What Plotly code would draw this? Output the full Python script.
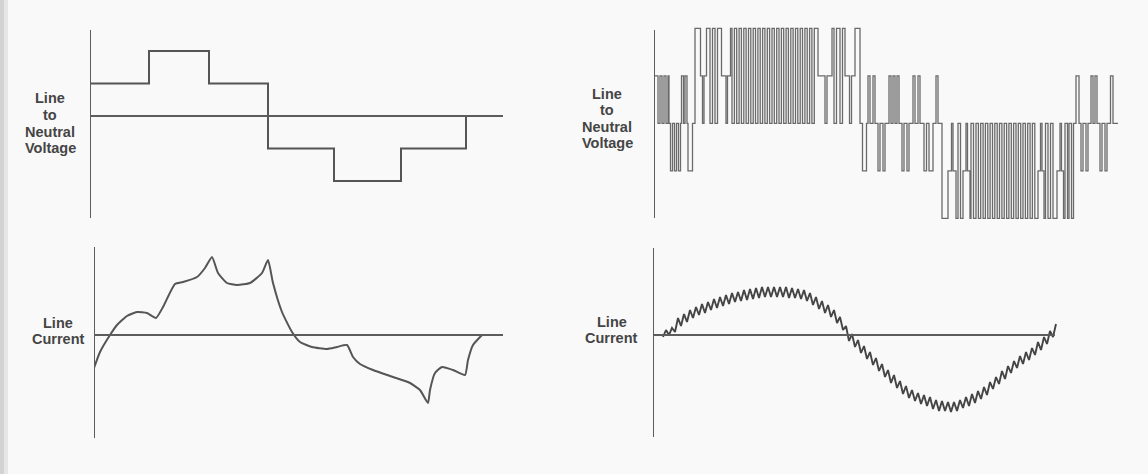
import plotly.graph_objects as go

W, H = 1148, 474

# ---------------- data ----------------
# Six-step inverter: line-to-neutral voltage (angle, level after edge)
six_t = [0, 59, 119, 178, 244, 311, 376]
six_v = [1, 2, 1, -1, -2, -1, 0]

# Six-step inverter: line current (angle, amplitude)
cur_t = [0, 6, 16, 23, 33, 43, 53, 62, 69, 81, 89, 103, 111, 118, 124, 133, 143, 156,
         168, 174, 179, 188, 198, 206, 218, 233, 243, 253, 259, 266, 279, 299, 316, 326,
         334, 336, 341, 348, 359, 371, 374, 379, 388]
cur_v = [-3.3, -1.7, 0.0, 1.0, 1.9, 2.3, 2.2, 1.7, 2.8, 5.1, 5.3, 5.8, 6.7, 7.8, 6.2,
         5.2, 5.0, 5.2, 6.2, 7.5, 5.2, 2.3, 0.3, -0.7, -1.2, -1.4, -1.2, -1.0, -2.2,
         -2.9, -3.5, -4.2, -4.8, -5.5, -6.8, -5.5, -3.8, -3.2, -3.5, -4.0, -2.5, -1.0, 0.0]

# PWM inverter: line-to-neutral voltage, switching edges (angle, level after edge)
pwm_t = [0, 4, 6, 8, 10, 12, 14, 15, 16.5, 18.5, 20.5, 22.5, 24.5, 26.5, 27.5, 29.5, 31, 33,
         34, 38.5, 41, 46.5, 48.5, 50, 52.5, 56, 58.5, 61, 63.5, 67.5, 72, 73.5, 76.5,
         78, 80.4, 82.7, 85.1, 87.4, 89.8, 92.1, 94.5, 96.8, 99.2, 101.5, 103.9, 106.2, 108.6,
         110.9, 113.3, 115.6, 118, 120.3, 122.7, 125, 127.4, 129.7, 132.1, 134.4, 136.8,
         139.1, 141.5, 143.8, 146.2, 148.5, 150.9, 153.2, 155.6, 157.9, 160.3,
         164, 171, 173, 178, 180, 182.5, 186, 188.5, 191, 195.5, 197.5, 201, 206, 208.5, 212.5,
         214, 216, 219, 221, 224, 226, 229, 231, 235, 237, 239, 241, 243, 245, 248, 250, 253, 255,
         259, 261, 264, 266, 270, 272.5, 275, 279, 282, 284, 288, 294, 297.5, 299, 302, 304, 306.5,
         309, 312, 313.5, 316, 317, 319.5,
         322, 324.4, 326.7, 329.1, 331.4, 333.8, 336.1, 338.5, 340.8, 343.2, 345.5, 347.9,
         350.2, 352.6, 354.9, 357.3, 359.6, 362, 364.3, 366.7, 369, 371.4, 373.7, 376.1,
         378.4, 380.8, 384, 386.5, 388, 390, 391.5, 394, 396.5, 399, 403, 406, 407.5, 409.5,
         411, 413.5, 415, 417.5, 419.5, 422, 425, 427, 429, 432, 434, 437, 439, 441, 443,
         446, 448, 451, 453, 456.5, 459, 464]
pwm_v = [1, 0, 1, 0, 1, 0, 1, 0, -1, 0, -1, 0, -1, 0, 1, 0, 1, 0,
         -1, 0, 2, 1, 0, 1, 2, 0, 2, 0, 2, 1, 0, 1, 2,
         0, 2, 0, 2, 0, 2, 0, 2, 0, 2, 0, 2, 0, 2,
         0, 2, 0, 2, 0, 2, 0, 2, 0, 2, 0, 2,
         0, 2, 0, 2, 0, 2, 0, 2, 0, 2,
         1, 0, 1, 2, 0, 2, 0, 2, 1, 0, 1, 2, 0, -1, 0,
         1, 0, 1, 0, -1, 0, -1, 0, 1, 0, 1, 0, 1, 0, -1, 0, -1, 0,
         1, 0, 1, 0, -1, 0, -1, 0, 1, 0, -2, -1, 0, -1, -2, 0, -2,
         -1, 0, -1, -2, 0, -2,
         0, -2, 0, -2, 0, -2, 0, -2, 0, -2, 0, -2,
         0, -2, 0, -2, 0, -2, 0, -2, 0, -2, 0, -2,
         0, -2, -1, 0, -1, -2, 0, -2, 0, -2, -1, 0, -1, -2,
         0, -2, 0, -2, 0, 1, 0, -1, 0, -1, 0, 1, 0, 1, 0,
         -1, 0, -1, 0, 1, 0, 0]

# PWM inverter: line current with ripple (angle, amplitude at each ripple vertex)
rip_t = [10, 13, 16, 19, 22, 25, 28, 31, 34, 37, 40, 43, 46, 49, 52, 55, 58, 61, 64, 67,
         70, 73, 76, 79, 82, 85, 88, 91, 94, 97, 100, 103, 106, 109, 112, 115, 118, 121, 124, 127,
         130, 133, 136, 139, 142, 145, 148, 151, 154, 157, 160, 163, 166, 169, 172, 175, 178, 181,
         184, 187, 190, 193, 196, 199, 202, 205, 208, 211, 214, 217, 220, 223, 226, 229, 232, 235,
         238, 241, 244, 247, 250, 253, 256, 259, 262, 265, 268, 271, 274, 277, 280, 283, 286, 289,
         292, 295, 298, 301, 304, 307, 310, 313, 316, 319, 322, 325, 328, 331, 334, 337, 340, 343,
         346, 349, 352, 355, 358, 361, 364, 367, 370, 373, 376, 379, 382, 385, 388, 391, 394, 397,
         400, 403]
rip_v = [-0.2, 0.5, 0.0, 0.7, 0.3, 1.7, 0.9, 2.1, 1.3, 2.5, 1.7, 2.8, 2.0, 3.1, 2.2, 3.3, 2.5,
         3.6, 2.7, 3.8, 2.9, 4.0, 3.1, 4.2, 3.3, 4.3, 3.4, 4.5, 3.5, 4.6, 3.6, 4.7, 3.7, 4.8, 3.8,
         4.8, 3.8, 4.8, 3.8, 4.8, 3.8, 4.8, 3.7, 4.7, 3.7, 4.6, 3.6, 4.5, 3.4, 4.2, 3.0, 3.8, 2.6,
         3.4, 2.2, 3.0, 1.8, 2.5, 1.2, 1.8, 0.5, 0.9, -0.6, 0.1, -1.2, -0.5, -1.8, -1.1, -2.4,
         -1.7, -3.0, -2.3, -3.6, -2.9, -4.2, -3.5, -4.8, -4.0, -5.3, -4.6, -5.9, -5.1, -6.3,
         -5.5, -6.6, -5.8, -6.9, -6.0, -7.1, -6.2, -7.4, -6.5, -7.6, -6.6, -7.6, -6.7, -7.7,
         -6.7, -7.6, -6.5, -7.3, -6.2, -7.1, -5.9, -6.8, -5.6, -6.4, -5.2, -6.0, -4.7, -5.4,
         -4.2, -4.9, -3.6, -4.4, -3.1, -3.8, -2.6, -3.3, -2.1, -2.9, -1.7, -2.5, -1.3, -2.0,
         -0.7, -1.5, -0.2, -0.9, 0.4, -0.2, 1.1]

label_voltage = ["Line", "to", "Neutral", "Voltage"]
label_current = ["Line", "Current"]

# ---------------- figure ----------------
INK = "#555555"
fig = go.Figure()

fig.add_trace(go.Scatter(x=six_t + [413], y=six_v + [0], mode="lines", line=dict(color=INK, width=2, shape="hv"),
                         xaxis="x", yaxis="y", hoverinfo="skip"))
fig.add_trace(go.Scatter(x=cur_t, y=cur_v, mode="lines", line=dict(color=INK, width=2, shape="spline", smoothing=0.5),
                         xaxis="x2", yaxis="y2", hoverinfo="skip"))
fig.add_trace(go.Scatter(x=pwm_t, y=pwm_v, mode="lines", line=dict(color="#6a6a6a", width=1.3, shape="hv"),
                         xaxis="x3", yaxis="y3", hoverinfo="skip"))
fig.add_trace(go.Scatter(x=rip_t, y=rip_v, mode="lines", line=dict(color="#454545", width=1.9),
                         xaxis="x4", yaxis="y4", hoverinfo="skip"))


def px_x(p):
    return p / W


def px_y(p):
    return 1 - p / H


hidden = dict(visible=False, fixedrange=True)
fig.update_layout(
    xaxis=dict(domain=[px_x(90), px_x(503)], range=[0, 413], anchor="y", **hidden),
    yaxis=dict(domain=[px_y(218), px_y(30)], range=[-3.138, 2.646], anchor="x", **hidden),
    xaxis2=dict(domain=[px_x(94), px_x(503)], range=[0, 409], anchor="y2", **hidden),
    yaxis2=dict(domain=[px_y(438), px_y(247)], range=[-10.3, 8.8], anchor="x2", **hidden),
    xaxis3=dict(domain=[px_x(654), px_x(1125)], range=[0, 471], anchor="y3", **hidden),
    yaxis3=dict(domain=[px_y(224), px_y(26)], range=[-2.12, 2.048], anchor="x3", **hidden),
    xaxis4=dict(domain=[px_x(653), px_x(1062)], range=[0, 409], anchor="y4", **hidden),
    yaxis4=dict(domain=[px_y(437), px_y(248)], range=[-10.2, 8.7], anchor="x4", **hidden),
)

AX = "#5c5c5c"
shapes = [
    # scan shadow on the left edge
    dict(type="rect", xref="paper", yref="paper", x0=0, x1=px_x(4), y0=0, y1=1,
         fillcolor="#d2d2d2", line_width=0, layer="below"),
    dict(type="rect", xref="paper", yref="paper", x0=px_x(4), x1=px_x(8), y0=0, y1=1,
         fillcolor="#e6e6e6", line_width=0, layer="below"),
    # vertical axes
    dict(type="line", xref="x", yref="paper", x0=0, x1=0, y0=px_y(218), y1=px_y(30), line=dict(color=AX, width=2)),
    dict(type="line", xref="x2", yref="paper", x0=0, x1=0, y0=px_y(438), y1=px_y(247), line=dict(color=AX, width=2)),
    dict(type="line", xref="x3", yref="paper", x0=0, x1=0, y0=px_y(218), y1=px_y(30), line=dict(color=AX, width=2)),
    dict(type="line", xref="x4", yref="paper", x0=0, x1=0, y0=px_y(437), y1=px_y(248), line=dict(color=AX, width=2)),
    # zero lines
    dict(type="line", xref="paper", yref="y", x0=px_x(90), x1=px_x(503), y0=0, y1=0, line=dict(color=AX, width=2)),
    dict(type="line", xref="paper", yref="y2", x0=px_x(94), x1=px_x(503), y0=0, y1=0, line=dict(color=AX, width=2)),
    dict(type="line", xref="paper", yref="y4", x0=px_x(653), x1=px_x(1055), y0=0, y1=0, line=dict(color=AX, width=2)),
]

FONT = dict(family="Liberation Sans, Arial, sans-serif", size=14.5, color="#454545")


def label(lines, cx, ys):
    out = []
    for txt, yy in zip(lines, ys):
        out.append(dict(text="<b>" + txt + "</b>", xref="paper", yref="paper", x=px_x(cx), y=px_y(yy),
                        showarrow=False, font=FONT, xanchor="center", yanchor="middle"))
    return out


annotations = (label(label_voltage, 50, [98, 115, 132, 148])
               + label(label_current, 58, [323, 339])
               + label(label_voltage, 607, [94, 110, 127, 143])
               + label(label_current, 612, [322, 338]))

fig.update_layout(
    width=W, height=H, margin=dict(l=0, r=0, t=0, b=0),
    paper_bgcolor="#f9f9f9", plot_bgcolor="rgba(0,0,0,0)",
    showlegend=False, shapes=shapes, annotations=annotations,
)

fig.write_html("out.html", config=dict(displayModeBar=False),
               post_script="document.body.style.margin='0';document.body.style.overflow='hidden';")
